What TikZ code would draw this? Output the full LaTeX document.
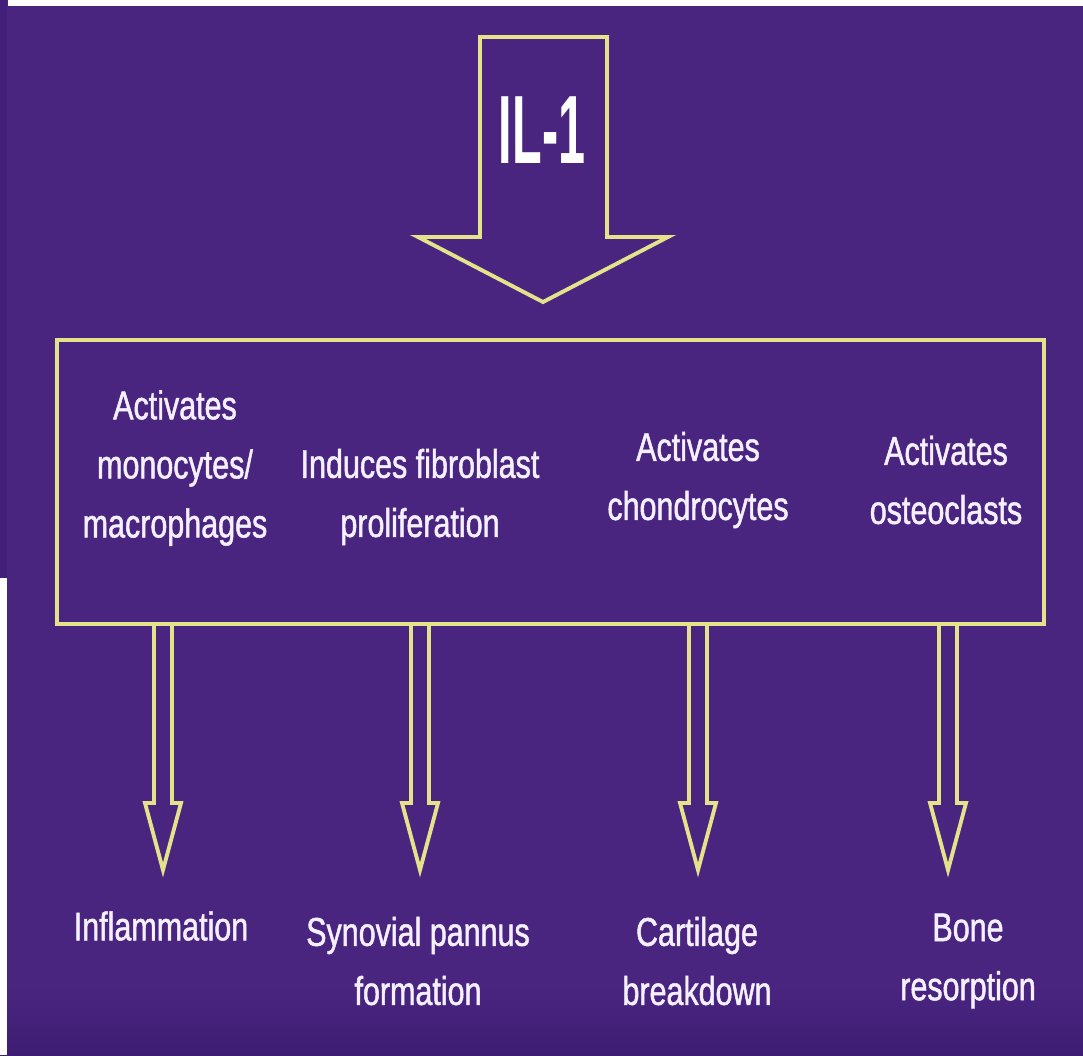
\documentclass[tikz,border=0pt]{standalone}
\usepackage{fontspec}
\setmainfont{Liberation Sans}[FakeStretch=0.76,FakeBold=1.2]
\newfontfamily\ilfont{Liberation Sans}[FakeStretch=0.5]
\usetikzlibrary{calc}

\definecolor{slide}{HTML}{4A2580}
\definecolor{slideedge}{HTML}{42207A}
\definecolor{slidelow}{HTML}{3E1D74}
\definecolor{rim}{HTML}{E4E28A}
\definecolor{ink}{HTML}{F4F0FF}

\tikzset{
  fx/.style={ink,align=center,font=\fontsize{11.4pt}{16.8pt}\selectfont},
  hollow/.style={rim,line width=1.1pt,line join=miter,fill=slide},
}

\begin{document}
\begin{tikzpicture}[x=0.01cm,y=-0.01cm]
  \useasboundingbox (0,0) rectangle (1083,1055);
  \fill[slide] (0,0) rectangle (1083,1055);
  \shade[top color=slide,bottom color=slidelow] (0,985) rectangle (1083,1055);
  \fill[slideedge] (0,0) rectangle (7,578);
  \fill[white] (8,0) rectangle (1083,6);
  \fill[white] (0,578) rectangle (7,1055);

  \coordinate (il) at (543,302);
  \draw[hollow] (480,237) -- (480,37) -- (607,37) -- (607,237) -- (668,237) -- (il) -- (418,237) -- cycle;
  \node[white,font=\ilfont\bfseries\fontsize{27.6pt}{30pt}\selectfont] (il1) at (542,130) {IL-1};

  \node[draw=rim,line width=1.1pt,minimum width=9.87cm,minimum height=2.84cm] (box) at (550.5,482) {};

  \foreach \n/\x in {1/163,2/420,3/698,4/948} {
    \coordinate (tip\n) at (\x,870);
    \draw[hollow] ($(box.south -| tip\n)+(-9,0)$) -- ($(tip\n)+(-9,-67)$) -- ($(tip\n)+(-18,-67)$) -- (tip\n)
      -- ($(tip\n)+(18,-67)$) -- ($(tip\n)+(9,-67)$) -- ($(box.south -| tip\n)+(9,0)$);
  }

  \node[fx] (act1) at (175,468) {Activates\\monocytes/\\macrophages};
  \node[fx] (act2) at (420,497) {Induces fibroblast\\proliferation};
  \node[fx] (act3) at (698,480) {Activates\\chondrocytes};
  \node[fx] (act4) at (946,480) {Activates\\osteoclasts};

  \node[fx] (res1) at (161,926) {Inflammation};
  \node[fx] (res2) at (418,961) {Synovial pannus\\formation};
  \node[fx] (res3) at (697,961) {Cartilage\\breakdown};
  \node[fx] (res4) at (968,961) {Bone\\resorption};
\end{tikzpicture}
\end{document}
